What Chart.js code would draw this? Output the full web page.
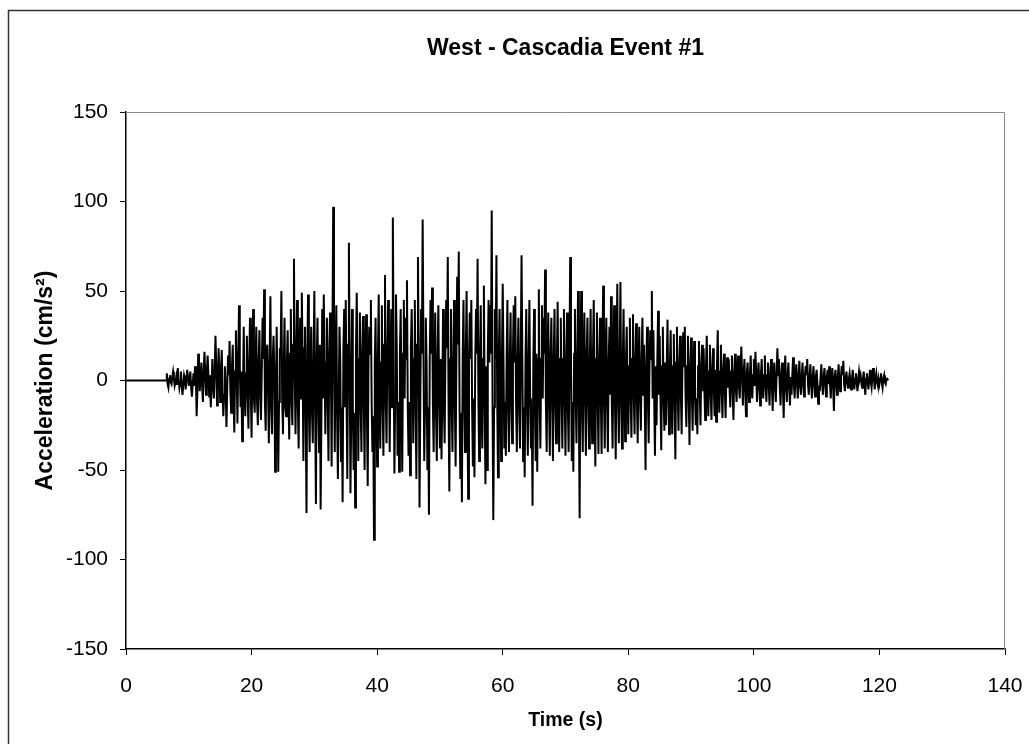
<!DOCTYPE html>
<html>
<head>
<meta charset="utf-8">
<script src="https://cdn.jsdelivr.net/npm/chart.js@4/dist/chart.umd.min.js"></script>
<style>
  html, body { margin: 0; padding: 0; background: #fff; }
  #wrap { width: 1029px; height: 744px; }
</style>
</head>
<body>
<div id="wrap"><canvas id="chart-accel"></canvas></div>
<script>
// record sampling (s)
const accel_t0 = 6.0;
const accel_dt = 0.125;

// acceleration (cm/s^2), one line = 2 s
const accel = [
  0, 0, 0, 0, 4, -2, -4, 1, 3, -1, -2, 2, 5, 1, -3, -1,
  2, -2, 7, 1, -4, -1, 5, -3, -8, -2, 3, 1, -5, 0, 6, 2,
  -3, 1, 5, -4, -9, -2, 4, -3, 8, 3, -20, -6, 15, 4, -6, 2,
  10, -3, -12, 6, 16, 2, -8, 5, 14, 4, -9, 3, -15, -4, 12, -2,
  -10, 6, 25, 8, -14, -3, 18, 5, -12, 4, 17, -6, -20, -8, 8, -5,
  -26, -4, 14, 3, 22, -6, -18, 7, 20, -8, -29, 5, 28, 6, -24, 10,
  42, 8, -15, 5, -34, -10, 30, -6, -20, 4, 25, -8, -27, 10, 35, -5,
  -32, 12, 40, -10, -18, 8, 30, -12, -25, 10, 28, -8, -22, 6, 35, 12,
  51, -12, -28, 15, 20, -5, -35, 10, 47, -15, -30, 12, 25, 5, -51, -10,
  30, -8, -51, -12, 18, 15, 50, -10, -30, 8, 35, -15, -20, 10, 28, -12,
  -33, 15, 40, -12, -25, 20, 68, 5, -30, 12, 45, -15, -38, 18, 35, -10,
  49, 12, -45, 18, 30, -20, -74, 15, 48, -15, -40, 10, 30, -18, -35, 12,
  50, -15, -69, 10, 35, -12, -40, 20, -72, -20, 40, -10, 48, 15, -30, 10,
  35, -12, -45, 15, 38, 10, -48, 20, 97, 18, -40, 15, 42, -20, -55, -15,
  30, 12, -45, -15, -68, 18, 40, -15, 45, -10, -55, 20, 77, 10, -63, -20,
  40, -12, -50, -18, -71, 15, 49, 10, -45, 12, 38, -15, -40, 15, 36, -12,
  -50, 10, 37, -20, -59, 12, 30, 15, 45, -12, -40, -20, -89, 10, 35, -15,
  -48, 12, 48, -18, -38, 10, 42, -15, -42, 20, 59, -12, -35, 15, 45, 10,
  -40, 12, 40, -15, 91, 20, -52, -10, 48, 18, -42, -12, -51, 15, 40, -10,
  -51, 15, 45, -10, 35, 12, 56, -15, -42, -12, -53, 18, 40, 10, -35, 12,
  45, -15, -55, 20, 69, 12, -71, -12, 40, 15, 90, 18, -45, -15, 35, 10,
  -50, -15, -75, 12, 45, 15, 52, -12, -40, 10, 38, -18, -45, 12, 42, -10,
  -38, 12, -44, -10, 40, -12, -35, 15, 45, 18, 69, -15, -62, 12, 40, -15,
  -40, 10, 45, -12, -48, 15, 58, 20, 72, -15, -55, -18, -68, 12, 45, -10,
  -40, 15, 50, -12, -66, 10, 38, 12, 45, -15, -48, -10, -54, 12, 40, 15,
  68, -10, -45, 12, 42, -15, -38, 12, 53, -12, -58, 8, -50, 15, 45, 10,
  42, 15, 95, -10, -78, -15, 40, 12, 70, -12, -54, 15, 40, -10, -45, 12,
  54, 10, -38, -12, -42, 12, 45, -15, -40, 10, 38, -12, -35, 15, 42, 10,
  47, -12, -40, 10, 35, -15, -38, 15, 70, 12, -45, -15, -54, 10, 40, -12,
  -42, 12, 45, -10, -38, -15, -70, 10, 40, -12, -45, 15, -51, 12, 51, -10,
  -38, 12, 42, -10, 35, 15, 62, -12, -40, 10, 38, -12, -42, 15, 35, -10,
  -45, 12, 40, -12, -35, 10, 44, -15, -40, 12, 35, -10, -38, 12, 40, -12,
  -42, 10, 38, -15, -40, 12, 69, 10, -45, -12, -51, 15, 40, -10, -35, 12,
  50, -12, -77, 10, 50, -15, -40, 12, 38, -10, -42, 15, 35, -12, -38, 10,
  40, -12, -35, 15, 45, -10, -48, 12, 38, -12, -41, 10, 35, -10, -41, 12,
  53, -10, -38, 12, 35, -12, -40, 10, 30, -8, 47, -12, -38, 10, 42, -12,
  -44, 12, 54, -10, -35, 12, 55, -12, -38, 10, 40, -8, -34, 10, 30, -10,
  -30, 8, 35, -10, -32, 12, 37, -8, -30, 10, 32, -12, -35, 8, 30, -10,
  -28, 10, 35, -8, 20, -12, -50, 10, 30, -10, -35, 8, 28, 12, 50, -10,
  28, -10, -42, 8, -25, 12, 39, -8, 25, -10, -39, 8, 30, -10, -28, 10,
  -25, 8, 34, -10, -30, 8, 28, -10, -30, 8, 26, -12, -44, 10, 30, -8,
  -28, 8, 25, -8, -30, 10, 27, 8, 30, -10, -26, 8, 25, -10, -36, 8,
  24, -8, -28, 6, 22, -8, -25, -10, -30, 8, 22, -6, -25, 8, 20, -6,
  18, -6, -22, 8, 25, -6, -20, 5, 20, -8, -22, 6, 18, -5, -20, 6,
  -23, 8, 28, -6, -18, 5, 20, -6, -21, 5, 15, -5, -21, 4, 13, -4,
  12, -4, -15, 5, 14, -6, -22, 4, 15, -4, -12, 5, 14, -3, -10, 4,
  19, 4, -14, 3, 12, -5, -20, 4, 10, -3, -12, 4, 14, -4, -10, 3,
  12, -3, 16, 4, -12, 3, 10, -4, -14, 3, 12, -4, -10, 3, 14, -3,
  -12, 3, 10, -3, -14, 4, 12, -3, -17, 3, 10, -4, -12, 4, 18, 3,
  12, -3, -14, 3, 10, -4, -21, 3, 14, -3, -12, 3, 10, -3, -14, 2,
  -8, 3, 13, -2, -10, 3, 9, -2, -10, 3, 11, -3, -8, 2, 10, -2,
  -9, 2, 8, 3, 12, -2, -8, 2, 9, -2, -10, 2, 8, -2, -9, 2,
  6, -2, -13, -3, -6, 2, 9, -2, -8, 2, 7, -2, -9, 2, 6, -2,
  8, -2, -10, 2, 7, -3, -17, 2, 6, -2, -8, 2, 9, -2, -6, 2,
  8, 3, 11, -2, -6, 1, 5, -1, -4, 1, 4, -1, -5, 1, 6, -1,
  -5, 1, 4, -1, -6, 1, 5, 1, 3, -1, -4, 1, 5, -2, -8, 1,
  4, -1, -5, 1, 6, -1, -4, 2, 7, 1, -5, 1, 4, -1, -3, 1,
  -2, 1, 4, -1, -4, 1, 3, -1, -2, 1, 1, 0, 0
];

const x_ticks = [0, 20, 40, 60, 80, 100, 120, 140];
const y_ticks = [-150, -100, -50, 0, 50, 100, 150];
const chart_title = 'West - Cascadia Event #1';

const accel_points = [{x: 0, y: 0}].concat(
  accel.map((v, i) => ({x: accel_t0 + i * accel_dt, y: v}))
);

// page frame, title over the plot box and top/right edges of the box
const frame_plugin = {
  id: 'frame',
  beforeDraw(chart) {
    const c = chart.ctx;
    c.save();
    c.fillStyle = '#fff';
    c.fillRect(0, 0, chart.width, chart.height);
    c.strokeStyle = '#333';
    c.lineWidth = 1.5;
    c.beginPath();
    c.moveTo(8.5, chart.height + 2);
    c.lineTo(8.5, 10.5);
    c.lineTo(chart.width + 2, 10.5);
    c.stroke();
    c.restore();
  },
  afterDraw(chart) {
    const a = chart.chartArea;
    const c = chart.ctx;
    c.save();
    c.strokeStyle = '#888';
    c.lineWidth = 1;
    c.beginPath();
    c.moveTo(a.left, a.top + 0.5);
    c.lineTo(a.right - 0.5, a.top + 0.5);
    c.lineTo(a.right - 0.5, a.bottom);
    c.stroke();

    c.fillStyle = '#000';
    c.font = 'bold 23px "Liberation Sans"';
    c.textAlign = 'center';
    c.textBaseline = 'middle';
    c.fillText(chart_title, (a.left + a.right) / 2, 49);
    c.restore();
  }
};

const ctx = document.getElementById('chart-accel');
new Chart(ctx, {
  type: 'line',
  plugins: [frame_plugin],
  data: {
    datasets: [{
      label: chart_title,
      data: accel_points,
      borderColor: '#000',
      borderWidth: 2,
      pointRadius: 0,
      tension: 0,
      fill: false
    }]
  },
  options: {
    responsive: true,
    maintainAspectRatio: false,
    animation: false,
    layout: {
      padding: {left: 0, right: 24, top: 112, bottom: 0}
    },
    scales: {
      x: {
        type: 'linear',
        min: 0,
        max: 140,
        afterBuildTicks: scale => { scale.ticks = x_ticks.map(v => ({value: v})); },
        afterFit: scale => {
          scale.height = 95;
          scale.paddingLeft = 0;
          scale.paddingRight = 0;
        },
        ticks: {
          color: '#000',
          padding: 19,
          font: {family: 'Liberation Sans', size: 21}
        },
        grid: {
          drawOnChartArea: false,
          drawTicks: true,
          tickLength: 6,
          color: '#000'
        },
        border: {display: true, color: '#000', width: 1.5},
        title: {
          display: true,
          text: 'Time (s)',
          color: '#000',
          padding: {top: 12, bottom: 12},
          font: {family: 'Liberation Sans', size: 19.5, weight: 'bold'}
        }
      },
      y: {
        min: -150,
        max: 150,
        afterBuildTicks: scale => { scale.ticks = y_ticks.map(v => ({value: v})); },
        afterFit: scale => {
          scale.width = 126;
          scale.paddingTop = 0;
          scale.paddingBottom = 0;
        },
        ticks: {
          color: '#000',
          padding: 12,
          font: {family: 'Liberation Sans', size: 21}
        },
        grid: {
          drawOnChartArea: false,
          drawTicks: true,
          tickLength: 6,
          color: '#000'
        },
        border: {display: true, color: '#000', width: 1.5},
        title: {
          display: true,
          text: 'Acceleration (cm/s²)',
          color: '#000',
          padding: {top: 32, bottom: 32},
          font: {family: 'Liberation Sans', size: 23, weight: 'bold'}
        }
      }
    },
    plugins: {
      legend: {display: false},
      tooltip: {enabled: false},
      title: {display: false}
    }
  }
});
</script>
</body>
</html>
